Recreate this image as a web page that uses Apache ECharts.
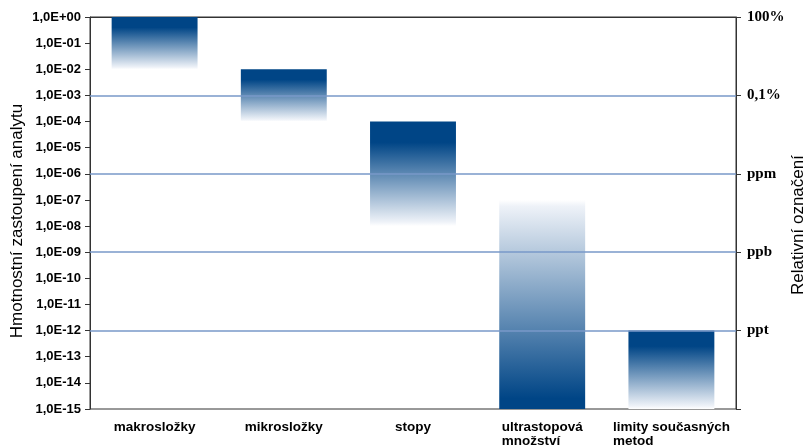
<!DOCTYPE html>
<html><head><meta charset="utf-8">
<script src="https://cdn.jsdelivr.net/npm/echarts@6/dist/echarts.min.js"></script>
<style>html,body{margin:0;padding:0;background:#fff}#c{width:807px;height:448px}</style>
</head><body><div id="c"></div>
<script>
// ---- data ----
const categories = ['makrosložky', 'mikrosložky', 'stopy', 'ultrastopová\nmnožství', 'limity současných\nmetod'];
const rangeHigh = [1, 1e-2, 1e-4, 1e-7, 1e-12];
const rangeLow  = [1e-2, 1e-4, 1e-8, 1e-15, 1e-15];
const darkAtBottom = [false, false, false, true, false];
const leftTickLabels = ['1,0E-15','1,0E-14','1,0E-13','1,0E-12','1,0E-11','1,0E-10','1,0E-09','1,0E-08',
                        '1,0E-07','1,0E-06','1,0E-05','1,0E-04','1,0E-03','1,0E-02','1,0E-01','1,0E+00'];
const rightTickExponents = [-15, -12, -9, -6, -3, 0];
const rightTickLabels = ['', 'ppt', 'ppb', 'ppm', '0,1%', '100%'];
const gridLineExponents = [-12, -9, -6, -3];

const DARK = '#004586';
const chart = echarts.init(document.getElementById('c'), null, {renderer: 'canvas'});

const seriesData = categories.map((c, i) => [i, Math.log10(rangeLow[i]), Math.log10(rangeHigh[i]), darkAtBottom[i] ? 1 : 0]);

function renderItem(params, api) {
  const i = api.value(0);
  const top = api.coord([i, api.value(2)]);
  const bot = api.coord([i, api.value(1)]);
  const w = api.size([1, 0])[0] * 0.665;
  let stops;
  if (api.value(3)) {
    stops = [{offset: 0, color: '#ffffff'}, {offset: 0.03, color: '#eef2f8'}, {offset: 0.95, color: DARK}, {offset: 1, color: DARK}];
  } else {
    stops = [{offset: 0, color: DARK}, {offset: 0.2, color: DARK}, {offset: 0.96, color: '#eef2f8'}, {offset: 1, color: '#ffffff'}];
  }
  return {
    type: 'rect',
    shape: {x: top[0] - w / 2, y: top[1], width: w, height: bot[1] - top[1]},
    style: {fill: new echarts.graphic.LinearGradient(0, 0, 0, 1, stops)}
  };
}

const labelRich = {l: {align: 'left', fontFamily: 'Liberation Sans', fontWeight: 'bold', fontSize: 13.5, color: '#000', lineHeight: 14}};

chart.setOption({
  animation: false,
  backgroundColor: '#fff',
  grid: {left: 90, right: 71, top: 17, bottom: 39, show: true, borderColor: '#333', borderWidth: 1,
         backgroundColor: 'transparent', containLabel: false, outerBoundsMode: 'none'},
  xAxis: {
    type: 'category',
    data: categories,
    axisLine: {lineStyle: {color: '#333', width: 1}},
    axisTick: {length: 6, lineStyle: {color: '#333'}},
    axisLabel: {
      margin: 11, interval: 0,
      formatter: v => v.split('\n').map(s => '{l|' + s + '}').join('\n'),
      rich: labelRich
    }
  },
  yAxis: [{
    type: 'value', min: -15, max: 0, interval: 1, position: 'left',
    name: 'Hmotnostní zastoupení analytu', nameLocation: 'middle', nameRotate: 90, nameGap: 64,
    nameMoveOverlap: false,
    nameTextStyle: {fontFamily: 'Liberation Sans', fontSize: 17, color: '#000', padding: [0, 16, 0, 0]},
    axisLine: {show: true, lineStyle: {color: '#333', width: 1}},
    axisTick: {show: true, length: 5, lineStyle: {color: '#333'}},
    splitLine: {show: false},
    axisLabel: {margin: 9, fontFamily: 'Liberation Sans', fontWeight: 'bold', fontSize: 13, color: '#000',
      formatter: v => leftTickLabels[Math.round(v) + 15]}
  }, {
    type: 'value', min: -15, max: 0, interval: 3, position: 'right',
    name: 'Relativní označení', nameLocation: 'middle', nameRotate: 90, nameGap: 54,
    nameMoveOverlap: false,
    nameTextStyle: {fontFamily: 'Liberation Sans', fontSize: 17, color: '#000', padding: [0, 24, 0, 0]},
    axisLine: {show: true, lineStyle: {color: '#333', width: 1}},
    axisTick: {show: true, length: 5, lineStyle: {color: '#333'}},
    splitLine: {show: false},
    axisLabel: {margin: 11, fontFamily: 'Liberation Serif', fontWeight: 'bold', fontSize: 15, color: '#000',
      formatter: v => { const k = rightTickExponents.indexOf(Math.round(v)); return k >= 0 ? rightTickLabels[k] : ''; }}
  }],
  series: [{
    type: 'custom',
    renderItem: renderItem,
    encode: {x: 0, y: [1, 2]},
    data: seriesData,
    z: 2
  }, {
    type: 'line',
    data: [],
    z: 5,
    markLine: {
      silent: true, symbol: ['none', 'none'], label: {show: false},
      lineStyle: {color: '#7898c8', width: 1.5, type: 'solid'},
      data: gridLineExponents.map(e => ({yAxis: e}))
    }
  }]
});
</script></body></html>
